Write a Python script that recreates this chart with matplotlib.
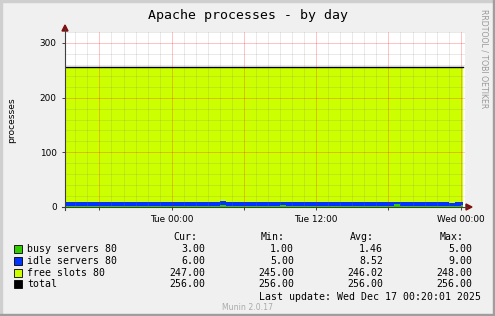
import numpy as np
import matplotlib.pyplot as plt
from matplotlib.patches import Rectangle, Polygon
from matplotlib.lines import Line2D

# half-hour samples, Mon 15:00 .. Wed 00:20 (hours relative to Tue 00:00)
busy = [1, 1, 2, 1, 1, 1, 2, 1, 1, 1,
        1, 2, 1, 1, 1, 1, 2, 1, 1, 2,
        1, 1, 1, 2, 1, 1, 3, 1, 1, 1,
        2, 1, 1, 1, 1, 2, 4, 2, 1, 1,
        1, 1, 2, 1, 1, 1, 1, 2, 1, 1,
        1, 1, 1, 2, 1, 5, 1, 1, 2, 1,
        1, 1, 1, 2, 1, 2, 3]
idle = [9, 9, 8, 9, 9, 9, 8, 9, 9, 9,
        9, 8, 9, 9, 9, 9, 8, 9, 9, 8,
        9, 9, 9, 8, 9, 9, 8, 9, 9, 9,
        8, 9, 9, 9, 9, 8, 6, 8, 9, 9,
        9, 9, 8, 9, 9, 9, 9, 8, 9, 9,
        9, 9, 9, 8, 9, 5, 9, 9, 8, 9,
        9, 9, 9, 8, 7, 7, 6]
free = [246, 246, 246, 246, 246, 246, 246, 246, 246, 246,
        246, 246, 246, 246, 246, 246, 246, 246, 246, 246,
        246, 246, 246, 246, 246, 246, 245, 246, 246, 246,
        246, 246, 246, 246, 246, 246, 246, 246, 246, 246,
        246, 246, 246, 246, 246, 246, 246, 246, 246, 246,
        246, 246, 246, 246, 246, 246, 246, 246, 246, 246,
        246, 246, 246, 246, 248, 247, 247]
total = [256] * 67

names = ["busy servers 80", "idle servers 80", "free slots 80", "total"]
colors = ["#33CC00", "#0033FF", "#CCFF00", "#000000"]
cur = ["3.00", "6.00", "247.00", "256.00"]
mins = ["1.00", "5.00", "245.00", "256.00"]
avgs = ["1.46", "8.52", "246.02", "256.00"]
maxs = ["5.00", "9.00", "248.00", "256.00"]

W, H = 495, 316
fig = plt.figure(figsize=(W / 100, H / 100), dpi=100, facecolor="#F0F0F0")


def fx(x):
    return x / W


def fy(y):
    return 1 - y / H


ax = fig.add_axes([fx(65), fy(207), (465 - 65) / W, (207 - 32) / H])
ax.set_facecolor("white")

t = np.append(-9 + 0.5 * np.arange(len(busy)), 24.2)


def ext(a):
    a = np.asarray(a, dtype=float)
    return np.append(a, a[-1])


b = ext(busy)
bi = b + ext(idle)
top = bi + ext(free)
ax.fill_between(t, 0, b, step="post", color=colors[0], lw=0)
ax.fill_between(t, b, bi, step="post", color=colors[1], lw=0)
ax.fill_between(t, bi, top, step="post", color=colors[2], lw=0)
ax.step(t, ext(total), where="post", color="black", lw=1.0, zorder=4)

ax.set_xlim(-8.86, 24.36)
ax.set_ylim(0, 320)
ax.set_xticks([-6, 0, 6, 12, 18, 24])
ax.set_xticklabels(["", "Tue 00:00", "", "Tue 12:00", "", "Wed 00:00"])
ax.set_xticks(np.arange(-8, 25, 1), minor=True)
ax.set_yticks([0, 100, 200, 300])
ax.set_yticks(np.arange(0, 321, 20), minor=True)
ax.set_axisbelow(False)
ax.grid(True, which="minor", color="#808080", alpha=0.2, lw=0.6)
ax.grid(True, which="major", color="#FF0000", alpha=0.28, lw=0.6)
ax.tick_params(which="major", length=2, width=0.7, color="#404040",
               labelsize=6.4, pad=4)
ax.tick_params(which="minor", length=0)
for s in ax.spines.values():
    s.set_visible(False)

# axis lines and arrows
fig.add_artist(Line2D([fx(62), fx(467)], [fy(207), fy(207)], color="#404040", lw=0.8))
fig.add_artist(Line2D([fx(65), fx(65)], [fy(210), fy(29)], color="#404040", lw=0.8))
fig.add_artist(Polygon([(fx(466), fy(204)), (fx(472), fy(207)), (fx(466), fy(210))],
                       closed=True, color="#7F1010", transform=fig.transFigure))
fig.add_artist(Polygon([(fx(62), fy(31)), (fx(65), fy(25)), (fx(68), fy(31))],
                       closed=True, color="#7F1010", transform=fig.transFigure))

# frame shading
fig.add_artist(Rectangle((0, fy(2)), 1, fy(0) - fy(2), color="#CFCFCF", transform=fig.transFigure))
fig.add_artist(Rectangle((0, 0), fx(2), 1, color="#CFCFCF", transform=fig.transFigure))
fig.add_artist(Rectangle((0, 0), 1, 2 / H, color="#9E9E9E", transform=fig.transFigure))
fig.add_artist(Rectangle((fx(493), 0), 2 / W, 1, color="#9E9E9E", transform=fig.transFigure))

mono = "DejaVu Sans Mono"
fig.text(fx(248), fy(16), "Apache processes - by day", family=mono, fontsize=9.5,
         ha="center", va="center")
fig.text(fx(12), fy(120), "processes", fontsize=6.6, rotation=90, ha="center", va="center")
fig.text(fx(484), fy(59), "RRDTOOL / TOBI OETIKER", fontsize=5.6, rotation=270,
         color="#999999", ha="center", va="center")

# legend table
fig.text(fx(197), fy(237), "Cur:", family=mono, fontsize=7.1, ha="right", va="center")
fig.text(fx(285), fy(237), "Min:", family=mono, fontsize=7.1, ha="right", va="center")
fig.text(fx(374), fy(237), "Avg:", family=mono, fontsize=7.1, ha="right", va="center")
fig.text(fx(464), fy(237), "Max:", family=mono, fontsize=7.1, ha="right", va="center")
rows = [249, 260.8, 272.5, 284.3]
for i, y in enumerate(rows):
    fig.add_artist(Rectangle((fx(14), fy(y + 4)), 8 / W, 8 / H, facecolor=colors[i],
                             edgecolor="black", lw=0.6, transform=fig.transFigure))
    fig.text(fx(27), fy(y), names[i], family=mono, fontsize=7.1, ha="left", va="center")
    fig.text(fx(205), fy(y), cur[i], family=mono, fontsize=7.1, ha="right", va="center")
    fig.text(fx(294), fy(y), mins[i], family=mono, fontsize=7.1, ha="right", va="center")
    fig.text(fx(383), fy(y), avgs[i], family=mono, fontsize=7.1, ha="right", va="center")
    fig.text(fx(472), fy(y), maxs[i], family=mono, fontsize=7.1, ha="right", va="center")
fig.text(fx(481), fy(296.5), "Last update: Wed Dec 17 00:20:01 2025", family=mono,
         fontsize=7.1, ha="right", va="center")
fig.text(fx(248), fy(307.5), "Munin 2.0.17", fontsize=5.6, color="#AAAAAA",
         ha="center", va="center")

fig.savefig("out.png", dpi=100, facecolor=fig.get_facecolor())
